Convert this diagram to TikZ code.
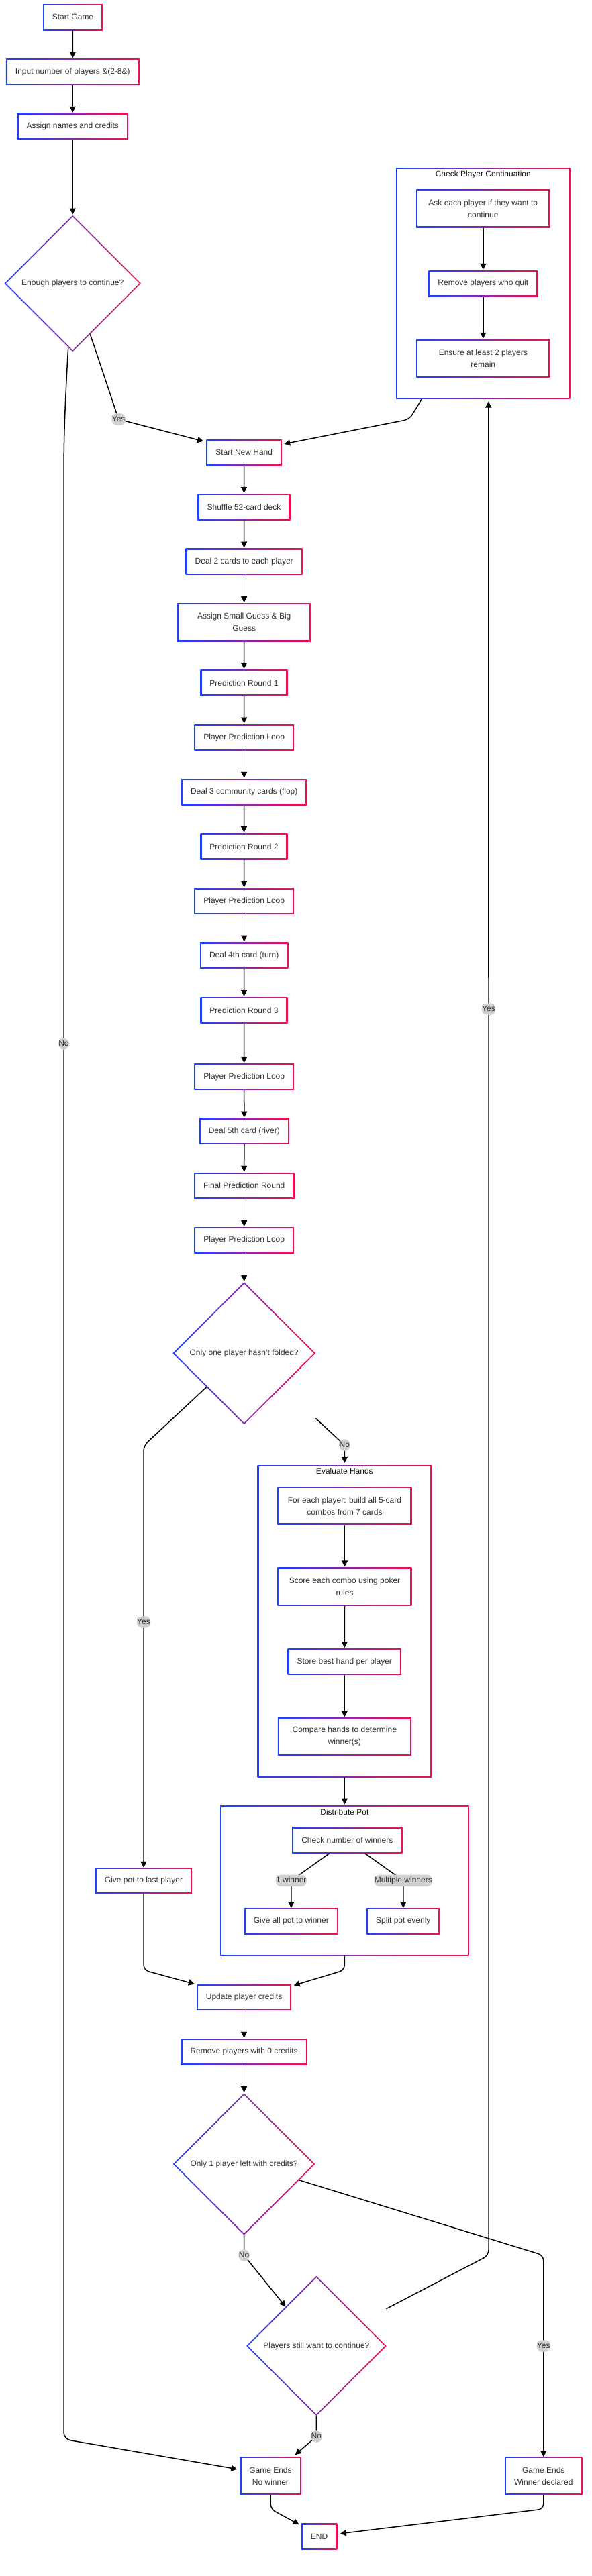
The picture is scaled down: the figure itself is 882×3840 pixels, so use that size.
\documentclass[tikz,border=0pt]{standalone}
\usepackage{fontspec}
\setmainfont{Liberation Sans}
\usetikzlibrary{shapes.geometric,arrows.meta,calc}
\definecolor{gblue}{RGB}{30,64,255}
\definecolor{gred}{RGB}{240,16,80}
\definecolor{txt}{RGB}{51,51,51}
\definecolor{ttlc}{RGB}{20,20,20}
\definecolor{lblbg}{RGB}{208,208,208}
\tikzset{
  gshade/.style={path picture={
    \shade[left color=gblue,right color=gred] (path picture bounding box.south west) rectangle (path picture bounding box.north east);
    \fill[white] ([shift={(#1,-#1)}]path picture bounding box.south west) rectangle ([shift={(-#1,#1)}]path picture bounding box.north east);}},
  box/.style={rectangle, inner sep=0pt, font=\fontsize{12}{18}\selectfont, text=txt, align=center, gshade=2},
  cluster/.style={rectangle, inner sep=0pt, gshade=1.8},
  ttl/.style={inner sep=0pt, font=\fontsize{12}{14}\selectfont, text=ttlc},
  dia/.style={diamond, inner sep=0pt, font=\fontsize{12}{18}\selectfont, text=txt, align=center,
    path picture={
    \shade[left color=gblue,right color=gred] (path picture bounding box.south west) rectangle (path picture bounding box.north east);
    \fill[white] ($(path picture bounding box.center)!0.975!(path picture bounding box.north)$) -- ($(path picture bounding box.center)!0.975!(path picture bounding box.east)$) -- ($(path picture bounding box.center)!0.975!(path picture bounding box.south)$) -- ($(path picture bounding box.center)!0.975!(path picture bounding box.west)$) -- cycle;}},
  ln/.style={draw=black, line width=1.5pt, rounded corners=8pt},
  arr/.style={ln, -{Triangle[length=9pt,width=9pt]}},
  lbl/.style={fill=lblbg, text=txt, font=\fontsize{12}{14}\selectfont, inner xsep=0.5pt, inner ysep=3pt, text height=9pt, text depth=2.5pt}
}
\begin{document}
\begin{tikzpicture}[x=1pt,y=-1pt]
\useasboundingbox (0,0) rectangle (882,3840);
\fill[white] (0,0) rectangle (882,3840);
% clusters
\node[cluster, minimum width=259pt, minimum height=344.4pt] (cpc) at (719.8,422.5) {};
\node[ttl] (cpct) at (719.8,260) {Check Player Continuation};
\node[cluster, minimum width=259.3pt, minimum height=465.3pt] (eval) at (513.35,2416.65) {};
\node[ttl] (evalt) at (513.35,2193) {Evaluate Hands};
\node[cluster, minimum width=370.5pt, minimum height=223.6pt] (dist) at (513.35,2803.5) {};
\node[ttl] (distt) at (513.35,2701) {Distribute Pot};
% nodes
\node[box, minimum width=89pt, minimum height=39pt] (start) at (108.5,25.8) {Start Game};
\node[box, minimum width=198.7pt, minimum height=39pt] (input) at (108.3,107.2) {Input number of players \&(2-8\&)};
\node[box, minimum width=165.3pt, minimum height=39pt] (assign) at (108.3,188.5) {Assign names and credits};
\node[dia, minimum width=203.4pt, minimum height=203.4pt] (d1) at (108.3,422.5) {Enough players to continue?};
\node[box, minimum width=112.7pt, minimum height=39pt] (snh) at (363.7,674.5) {Start New Hand};
\node[box, minimum width=137.6pt, minimum height=39pt] (shuffle) at (363.5,755.8) {Shuffle 52-card deck};
\node[box, minimum width=174pt, minimum height=39pt] (deal2) at (363.7,837.2) {Deal 2 cards to each player};
\node[box, minimum width=199.3pt, minimum height=56.7pt] (guess) at (363.7,927.7) {Assign Small Guess \& Big\\Guess};
\node[box, minimum width=129.6pt, minimum height=39pt] (pr1) at (363.5,1017.8) {Prediction Round 1};
\node[box, minimum width=148.7pt, minimum height=39pt] (ppl1) at (363.7,1099.2) {Player Prediction Loop};
\node[box, minimum width=187.3pt, minimum height=39pt] (flop) at (363.7,1180.5) {Deal 3 community cards (flop)};
\node[box, minimum width=129.6pt, minimum height=39pt] (pr2) at (363.5,1261.7) {Prediction Round 2};
\node[box, minimum width=148.7pt, minimum height=39pt] (ppl2) at (363.7,1343.2) {Player Prediction Loop};
\node[box, minimum width=131.3pt, minimum height=39pt] (turn) at (363.7,1424.3) {Deal 4th card (turn)};
\node[box, minimum width=129.6pt, minimum height=39pt] (pr3) at (363.5,1505.8) {Prediction Round 3};
\node[box, minimum width=148.7pt, minimum height=39pt] (ppl3) at (363.7,1605) {Player Prediction Loop};
\node[box, minimum width=133.7pt, minimum height=39pt] (river) at (363.8,1686.3) {Deal 5th card (river)};
\node[box, minimum width=149.3pt, minimum height=39pt] (final) at (363.7,1767.5) {Final Prediction Round};
\node[box, minimum width=148.7pt, minimum height=39pt] (ppl4) at (363.7,1848.8) {Player Prediction Loop};
\node[dia, minimum width=213pt, minimum height=212.4pt] (d2) at (363.7,2017.3) {Only one player hasn't folded?};
\node[box, minimum width=144pt, minimum height=39pt] (givelast) at (214,2803.5) {Give pot to last player};
\node[box, minimum width=199.6pt, minimum height=57.3pt] (each) at (513.5,2244.7) {For each player: build all 5-card\\combos from 7 cards};
\node[box, minimum width=199.6pt, minimum height=57.3pt] (score) at (513.5,2365.3) {Score each combo using poker\\rules};
\node[box, minimum width=169.3pt, minimum height=39.4pt] (store) at (513.3,2477) {Store best hand per player};
\node[box, minimum width=199pt, minimum height=56.3pt] (compare) at (513.3,2588.8) {Compare hands to determine\\winner(s)};
\node[box, minimum width=164.2pt, minimum height=39pt] (check) at (517.3,2743.2) {Check number of winners};
\node[box, minimum width=139.7pt, minimum height=39pt] (giveall) at (433.8,2863.8) {Give all pot to winner};
\node[box, minimum width=109.1pt, minimum height=39pt] (split) at (600.8,2863.8) {Split pot evenly};
\node[box, minimum width=141pt, minimum height=39pt] (update) at (363.6,2977.2) {Update player credits};
\node[box, minimum width=188pt, minimum height=39pt] (remove0) at (363.6,3058.5) {Remove players with 0 credits};
\node[dia, minimum width=211.8pt, minimum height=211.4pt] (d3) at (363.6,3226) {Only 1 player left with credits?};
\node[dia, minimum width=208.8pt, minimum height=208.7pt] (d4) at (471.4,3497) {Players still want to continue?};
\node[box, minimum width=91pt, minimum height=56.7pt] (endnw) at (403,3690.7) {Game Ends\\No winner};
\node[box, minimum width=115pt, minimum height=56.7pt] (endw) at (809.8,3690.7) {Game Ends\\Winner declared};
\node[box, minimum width=53.5pt, minimum height=39pt] (END) at (475.5,3781.2) {END};
\node[box, minimum width=199pt, minimum height=57pt] (ask) at (719.8,310.8) {Ask each player if they want to\\continue};
\node[box, minimum width=163pt, minimum height=39.3pt] (quit) at (719.8,422.7) {Remove players who quit};
\node[box, minimum width=199pt, minimum height=56.7pt] (ensure) at (719.8,534.3) {Ensure at least 2 players\\remain};
\coordinate (d2no) at (470.3,2114.3);
\coordinate (d4yes) at (575.4,3441.7);
% straight flow
\foreach \a/\b in {start/input, input/assign, assign/d1, snh/shuffle, shuffle/deal2, deal2/guess, guess/pr1, pr1/ppl1, ppl1/flop, flop/pr2, pr2/ppl2, ppl2/turn, turn/pr3, pr3/ppl3, ppl3/river, river/final, final/ppl4, ppl4/d2, each/score, score/store, store/compare, update/remove0, remove0/d3, ask/quit, quit/ensure}
  \draw[arr, shorten >=1pt] (\a.south) -- (\b.north);
\draw[arr, shorten >=2pt] (eval.south) -- (dist.north);
% decisions
\draw[arr] ($(d1.east)!0.744!(d1.south)$) -- (176.7,625) node[lbl] {Yes} -- ([shift={(-4,3)}]snh.north west);
\draw[arr, rounded corners=10pt] ($(d1.south)!0.065!(d1.west)$) .. controls (97,600) and (95,650) .. (95,720) -- (95,1556) node[lbl] {No} -- (95,3636) -- ([shift={(-4,-10)}]endnw.west);
\draw[arr] ([xshift=-91.5pt]cpc.south) -- (610,625) -- ([shift={(3,7)}]snh.north east);
\draw[arr] (d4yes) -- (728,3362) -- (728,1504) node[lbl] {Yes} -- ([shift={(8,3.6)}]cpc.south);
\draw[arr] ($(d2.south)!0.526!(d2.west)$) -- (214,2155) -- (214,2418) node[lbl] {Yes} -- (givelast.north);
\draw[arr, shorten >=3pt] (d2no) -- (513.35,2154) node[lbl] {No} -- (eval.north);
\draw[arr] ([xshift=-26.9pt]check.south) -- (433.8,2803.3) node[lbl] {1 winner} -- (giveall.north);
\draw[arr] ([xshift=26.7pt]check.south) -- (600.8,2803.3) node[lbl] {Multiple winners} -- (split.north);
\draw[arr] (givelast.south) -- (214,2936.7) -- ([shift={(-3,0)}]update.north west);
\draw[arr] (dist.south) -- (513.35,2936.7) -- ([shift={(3.4,2)}]update.north east);
\draw[arr] (d3.south) -- (363.6,3362) node[lbl] {No} -- ($(d4.north)!0.44!(d4.west)$);
\draw[arr] ($(d3.east)!0.225!(d3.south)$) -- (809.8,3362) -- (809.8,3497) node[lbl] {Yes} -- (endw.north);
\draw[arr] (d4.south) -- (471.4,3632) node[lbl] {No} -- ([shift={(-9,-3)}]endnw.north east);
\draw[arr] (endnw.south) -- (403,3740) -- ([shift={(-3,1.6)}]END.north west);
\draw[arr] (endw.south) -- (809.8,3740) -- ([shift={(4.4,-4.5)}]END.east);
\end{tikzpicture}
\end{document}
